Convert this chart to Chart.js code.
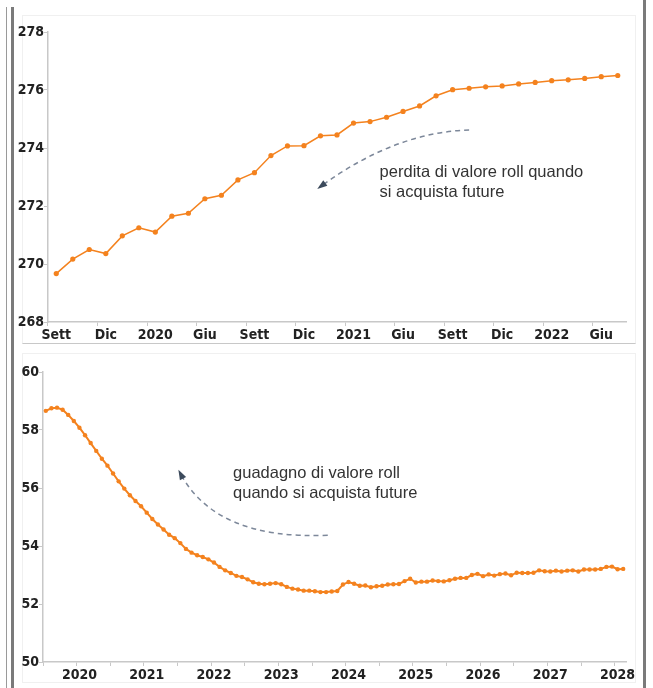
<!DOCTYPE html>
<html lang="it">
<head>
<meta charset="UTF-8">
<title>Roll yield</title>
<script src="https://cdn.jsdelivr.net/npm/chart.js"></script>
<style>
  body { margin: 0; background: #fff; width: 653px; height: 688px; position: relative; overflow: hidden; }
  .rule { position: absolute; background: #7a7a7a; }
  .panel { position: absolute; border: 1px solid #f0f0f0; box-sizing: border-box; }
  canvas { position: absolute; }
</style>
</head>
<body>
<!-- cornice della pagina -->
<div class="rule" style="left:6px; top:7px; width:1px; height:681px; background:#9a9a9a;"></div>
<div class="rule" style="left:11px; top:7px; width:2.5px; height:681px;"></div>
<div class="rule" style="left:643px; top:0; width:2.5px; height:688px;"></div>

<div class="panel" style="left:22px; top:15px; width:614px; height:329px; border-bottom-color:#c8c8c8;"></div>
<div class="panel" style="left:22px; top:353px; width:614px; height:330px;"></div>

<canvas id="topChart" width="626" height="328" style="left:14px; top:15px;"></canvas>
<canvas id="bottomChart" width="626" height="329" style="left:14px; top:353px;"></canvas>

<script>
// --- grafico in alto: mensile, sett 2019 - lug 2022
const topMonths = ['2019-09','2019-10','2019-11','2019-12','2020-01','2020-02','2020-03','2020-04','2020-05',
  '2020-06','2020-07','2020-08','2020-09','2020-10','2020-11','2020-12','2021-01','2021-02','2021-03',
  '2021-04','2021-05','2021-06','2021-07','2021-08','2021-09','2021-10','2021-11','2021-12','2022-01',
  '2022-02','2022-03','2022-04','2022-05','2022-06','2022-07'];
const topValues = [269.67, 270.17, 270.50, 270.36, 270.97, 271.25, 271.10, 271.65, 271.75, 272.25,
  272.37, 272.90, 273.15, 273.74, 274.07, 274.08, 274.42, 274.45, 274.86, 274.91, 275.06, 275.26,
  275.45, 275.80, 276.01, 276.06, 276.11, 276.14, 276.21, 276.26, 276.32, 276.35, 276.40, 276.46, 276.50];
const topTicks = ['Sett','Dic','2020','Giu','Sett','Dic','2021','Giu','Sett','Dic','2022','Giu'];
const topNote = ['perdita di valore roll quando', 'si acquista future'];

// --- grafico in basso: mensile, lug 2019 - feb 2028
const bottomMonths = [];
for (let y = 2019, m = 7; bottomMonths.length < 104; m++) {
  if (m > 12) { m = 1; y++; }
  bottomMonths.push(y + '-' + String(m).padStart(2, '0'));
}
const bottomValues = [58.66, 58.75, 58.77, 58.70, 58.52, 58.31, 58.08, 57.82, 57.55, 57.28, 57.01, 56.77,
  56.50, 56.23, 55.98, 55.75, 55.55, 55.37, 55.15, 54.93, 54.74, 54.57, 54.39, 54.27, 54.10, 53.90,
  53.77, 53.68, 53.62, 53.54, 53.43, 53.28, 53.16, 53.07, 52.97, 52.93, 52.85, 52.75, 52.70, 52.68,
  52.70, 52.72, 52.68, 52.59, 52.53, 52.50, 52.46, 52.46, 52.44, 52.41, 52.41, 52.43,
  52.45, 52.67, 52.76, 52.70, 52.63, 52.64, 52.58, 52.61, 52.63, 52.67, 52.68, 52.69, 52.79, 52.87,
  52.74, 52.77, 52.77, 52.81, 52.79, 52.78, 52.82, 52.87, 52.90, 52.90, 53.00, 53.04,
  52.96, 53.02, 52.98, 53.03, 53.05, 52.99, 53.08, 53.07, 53.07, 53.08, 53.16, 53.13, 53.12, 53.15,
  53.12, 53.15, 53.16, 53.12, 53.19, 53.19, 53.19, 53.21, 53.28, 53.29, 53.20, 53.21];
const bottomTicks = ['2020','2021','2022','2023','2024','2025','2026','2027','2028'];
const bottomNote = ['guadagno di valore roll', 'quando si acquista future'];

// frecce tratteggiate (indice categoria, valore): inizio, controllo, punta
const topArrow = [[25.0, 274.62], [20.5, 274.55], [15.95, 272.65]];
const bottomArrow = [[50.3, 54.37], [30.2, 54.20], [23.9, 56.54]];
const topNoteAt = [19.58, 273.14];
const bottomNoteAt = [33.4, 56.51];

const ORANGE = '#f4821e';
const AXIS = '#c8c8c8';
const NONE = 'rgba(0,0,0,0)';
const tickFont = { family: "'Liberation Sans Narrow', 'DejaVu Sans Condensed', sans-serif", size: 14, weight: 'bold' };

const notePlugin = {
  id: 'note',
  afterDatasetsDraw(chart, args, opts) {
    const ctx = chart.ctx, xs = chart.scales.x, ys = chart.scales.y;
    const px = p => [xs.getPixelForValue(p[0]), ys.getPixelForValue(p[1])];
    const [p0, c, p2] = opts.arrow.map(px);
    ctx.save();
    ctx.strokeStyle = '#7d889a';
    ctx.lineWidth = 1.5;
    ctx.setLineDash([5, 4]);
    ctx.beginPath();
    ctx.moveTo(p0[0], p0[1]);
    ctx.quadraticCurveTo(c[0], c[1], p2[0], p2[1]);
    ctx.stroke();
    ctx.setLineDash([]);
    // punta
    const a = Math.atan2(p2[1] - c[1], p2[0] - c[0]);
    ctx.fillStyle = '#3c4a5c';
    ctx.beginPath();
    ctx.moveTo(p2[0] + Math.cos(a) * 3, p2[1] + Math.sin(a) * 3);
    ctx.lineTo(p2[0] - Math.cos(a) * 7 - Math.sin(a) * 3.5, p2[1] - Math.sin(a) * 7 + Math.cos(a) * 3.5);
    ctx.lineTo(p2[0] - Math.cos(a) * 7 + Math.sin(a) * 3.5, p2[1] - Math.sin(a) * 7 - Math.cos(a) * 3.5);
    ctx.closePath();
    ctx.fill();
    // testo
    const t = px(opts.at);
    ctx.fillStyle = '#333';
    ctx.font = "16.5px 'Liberation Sans', Arial, sans-serif";
    ctx.textBaseline = 'middle';
    ctx.textAlign = 'left';
    opts.text.forEach((line, i) => ctx.fillText(line, t[0], t[1] + i * 20));
    ctx.restore();
  }
};

function makeChart(id, labels, values, opt) {
  return new Chart(document.getElementById(id), {
    type: 'line',
    data: {
      labels: labels,
      datasets: [{
        data: values,
        borderColor: ORANGE,
        backgroundColor: ORANGE,
        borderWidth: opt.lineWidth,
        pointRadius: opt.pointRadius,
        pointBorderWidth: 0,
        tension: 0
      }]
    },
    options: {
      responsive: false,
      animation: false,
      layout: { padding: { top: opt.padTop, right: 14, left: 0, bottom: 0 } },
      plugins: {
        legend: { display: false },
        tooltip: { enabled: false },
        note: { arrow: opt.arrow, text: opt.note, at: opt.noteAt }
      },
      scales: {
        x: {
          offset: true,
          afterFit: s => { s.height = opt.xHeight; },
          border: { display: true, color: AXIS, width: 1.5 },
          grid: {
            offset: true,
            drawOnChartArea: false,
            drawTicks: true,
            tickLength: 4,
            color: c => (c.index < labels.length && opt.tickAt(c.index) ? AXIS : NONE)
          },
          ticks: {
            autoSkip: false,
            maxRotation: 0,
            padding: 1,
            color: '#222',
            font: tickFont,
            callback: (v, i) => opt.label(i)
          }
        },
        y: {
          min: opt.min, max: opt.max,
          afterFit: s => { s.width = opt.yWidth; },
          border: { display: true, color: AXIS, width: 1.5 },
          grid: { drawOnChartArea: false, drawTicks: true, tickLength: 4, color: AXIS },
          ticks: { stepSize: 2, padding: 0, color: '#222', font: tickFont }
        }
      }
    },
    plugins: [notePlugin]
  });
}

makeChart('topChart', topMonths, topValues, {
  min: 268, max: 278, padTop: 17, yWidth: 34, xHeight: 21,
  lineWidth: 1.5, pointRadius: 2.6,
  tickAt: i => i % 3 === 0,
  label: i => (i % 3 === 0 ? topTicks[i / 3] : ''),
  arrow: topArrow, note: topNote, noteAt: topNoteAt
});

makeChart('bottomChart', bottomMonths, bottomValues, {
  min: 50, max: 60, padTop: 19, yWidth: 29, xHeight: 20,
  lineWidth: 2, pointRadius: 2.2,
  tickAt: i => bottomMonths[i].endsWith('-01') || bottomMonths[i].endsWith('-07'),
  label: i => (bottomMonths[i].endsWith('-01') ? bottomTicks[bottomTicks.indexOf(bottomMonths[i].slice(0, 4))] : ''),
  arrow: bottomArrow, note: bottomNote, noteAt: bottomNoteAt
});
</script>
</body>
</html>
